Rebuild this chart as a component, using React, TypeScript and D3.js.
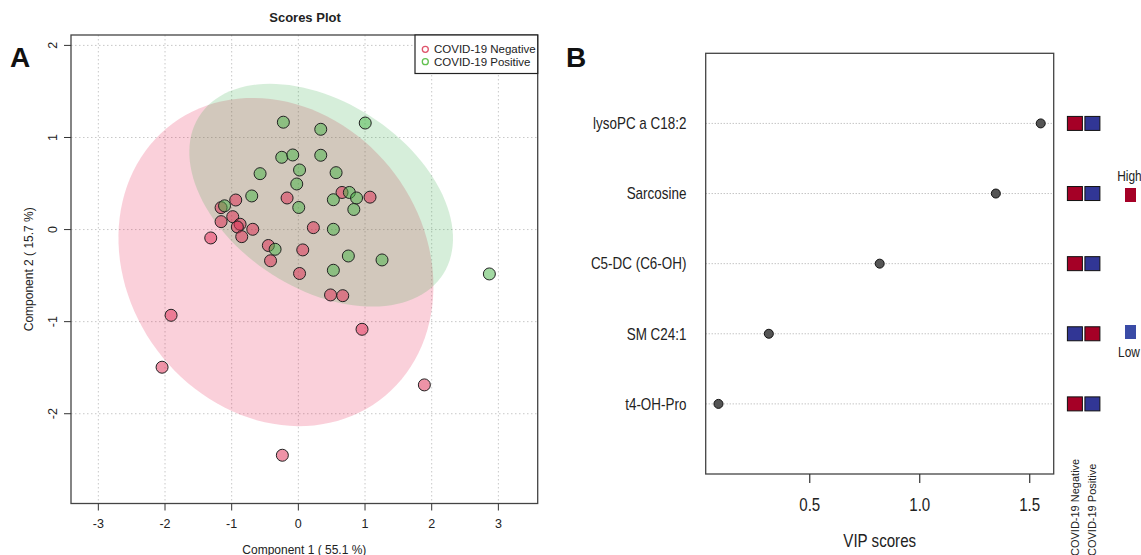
import React, { useEffect, useRef } from "react";
import * as d3 from "d3";

const width = 1141;
const height = 555;

// ---- scores plot (component 1 / component 2) ----
const groups = ["COVID-19 Negative", "COVID-19 Positive"];

const negX = [-0.939, -1.159, -0.984, -1.159, -0.874, -0.915, -0.684, -0.849, -1.314, -0.169, 0.655, 1.075,
  0.225, -0.45, 0.066, -0.417, 0.018, 0.483, 0.666, -1.909, -2.044, -0.24, 0.955, 1.89];
const negY = [0.321, 0.238, 0.14, 0.086, 0.058, 0.028, 0.003, -0.077, -0.091, 0.343, 0.403, 0.352,
  0.021, -0.173, -0.221, -0.339, -0.477, -0.71, -0.718, -0.931, -1.495, -2.451, -1.083, -1.687];

const posX = [-0.225, 0.336, 1.003, -0.249, -0.084, 0.336, 0.018, 0.566, -0.574, -0.024, -0.699, 0.006,
  0.525, 0.765, 0.873, 0.832, -1.107, 0.525, -0.349, 0.75, 1.255, 0.525, 2.865];
const posY = [1.166, 1.089, 1.157, 0.785, 0.81, 0.807, 0.647, 0.618, 0.607, 0.495, 0.365, 0.24,
  0.324, 0.403, 0.343, 0.218, 0.258, 0.003, -0.214, -0.287, -0.33, -0.442, -0.482];

const xTicks = [-3, -2, -1, 0, 1, 2, 3];
const yTicks = [-2, -1, 0, 1, 2];

// ---- VIP scores ----
const features = ["lysoPC a C18:2", "Sarcosine", "C5-DC (C6-OH)", "SM C24:1", "t4-OH-Pro"];
const vipScores = [1.55, 1.346, 0.818, 0.314, 0.085];
// 1 = high, 0 = low, columns: negative, positive
const negLevel = [1, 1, 1, 0, 1];
const posLevel = [0, 0, 0, 1, 0];
const vipTicks = [0.5, 1.0, 1.5];

const font = "'Liberation Sans', Arial, sans-serif";

function ellipse(xs: number[], ys: number[]) {
  const n = xs.length;
  const mx = d3.mean(xs) as number;
  const my = d3.mean(ys) as number;
  let sxx = 0, syy = 0, sxy = 0;
  for (let i = 0; i < n; i++) {
    const dx = xs[i] - mx, dy = ys[i] - my;
    sxx += dx * dx; syy += dy * dy; sxy += dx * dy;
  }
  sxx /= n - 1; syy /= n - 1; sxy /= n - 1;
  const tr = sxx + syy, det = sxx * syy - sxy * sxy;
  const l1 = tr / 2 + Math.sqrt(tr * tr / 4 - det);
  const l2 = tr / 2 - Math.sqrt(tr * tr / 4 - det);
  const th = Math.atan2(l1 - sxx, sxy);
  const t = Math.sqrt(5.991); // 95% chi-square, 2 df
  return d3.range(120).map(i => {
    const a = (2 * Math.PI * i) / 120;
    const u = t * Math.sqrt(l1) * Math.cos(a), v = t * Math.sqrt(l2) * Math.sin(a);
    return [mx + u * Math.cos(th) - v * Math.sin(th), my + u * Math.sin(th) + v * Math.cos(th)];
  });
}

export default function App() {
  const ref = useRef<SVGSVGElement>(null);

  useEffect(() => {
    const svg = d3.select(ref.current);
    svg.selectAll("*").remove();

    // ================= A: scores plot =================
    const L = { left: 71, right: 537.7, top: 35, bottom: 503.5 };
    const x = d3.scaleLinear().domain([-3.41, 3.59]).range([L.left, L.right]);
    const y = d3.scaleLinear().domain([-2.975, 2.113]).range([L.bottom, L.top]);

    const a = svg.append("g").style("font-family", font);

    a.append("clipPath").attr("id", "clipA").append("rect")
      .attr("x", L.left).attr("y", L.top).attr("width", L.right - L.left).attr("height", L.bottom - L.top);

    // grid
    a.selectAll(".gx").data(xTicks).join("line")
      .attr("x1", d => x(d)).attr("x2", d => x(d)).attr("y1", L.top).attr("y2", L.bottom)
      .attr("stroke", "#c8c8c8").attr("stroke-dasharray", "1.5,2.5");
    a.selectAll(".gy").data(yTicks).join("line")
      .attr("y1", d => y(d)).attr("y2", d => y(d)).attr("x1", L.left).attr("x2", L.right)
      .attr("stroke", "#c8c8c8").attr("stroke-dasharray", "1.5,2.5");

    // ellipses
    const line = d3.line<number[]>().x(d => x(d[0])).y(d => y(d[1])).curve(d3.curveLinearClosed);
    const ell = a.append("g").attr("clip-path", "url(#clipA)");
    ell.append("path").attr("d", line(ellipse(negX, negY))).attr("fill", "rgba(230,20,70,0.2)");
    ell.append("path").attr("d", line(ellipse(posX, posY))).attr("fill", "rgba(50,170,70,0.2)");

    // points
    a.append("g").selectAll("circle").data(negX.map((d, i) => [d, negY[i]])).join("circle")
      .attr("cx", d => x(d[0])).attr("cy", d => y(d[1])).attr("r", 6)
      .attr("fill", "rgba(222,40,80,0.5)").attr("stroke", "#222").attr("stroke-width", 1);
    a.append("g").selectAll("circle").data(posX.map((d, i) => [d, posY[i]])).join("circle")
      .attr("cx", d => x(d[0])).attr("cy", d => y(d[1])).attr("r", 6)
      .attr("fill", "rgba(70,180,70,0.5)").attr("stroke", "#222").attr("stroke-width", 1);

    // box
    a.append("rect").attr("x", L.left).attr("y", L.top).attr("width", L.right - L.left)
      .attr("height", L.bottom - L.top).attr("fill", "none").attr("stroke", "#444").attr("stroke-width", 1.3);

    // x axis
    a.selectAll(".tx").data(xTicks).join("line")
      .attr("x1", d => x(d)).attr("x2", d => x(d)).attr("y1", L.bottom).attr("y2", L.bottom + 7)
      .attr("stroke", "#333");
    a.selectAll(".lx").data(xTicks).join("text")
      .attr("x", d => x(d)).attr("y", 527.5).attr("text-anchor", "middle")
      .attr("font-size", 12.5).attr("fill", "#222").text(d => String(d));
    a.append("text").attr("x", (L.left + L.right) / 2).attr("y", 553.5).attr("text-anchor", "middle")
      .attr("font-size", 12).attr("fill", "#222").text("Component 1 ( 55.1 %)");

    // y axis
    a.selectAll(".ty").data(yTicks).join("line")
      .attr("y1", d => y(d)).attr("y2", d => y(d)).attr("x1", L.left).attr("x2", L.left - 7)
      .attr("stroke", "#333");
    a.selectAll(".ly").data(yTicks).join("text")
      .attr("transform", d => `translate(56.5,${y(d)}) rotate(-90)`).attr("text-anchor", "middle")
      .attr("font-size", 12.5).attr("fill", "#222").text(d => String(d));
    a.append("text").attr("transform", `translate(33,${(L.top + L.bottom) / 2}) rotate(-90)`)
      .attr("text-anchor", "middle").attr("font-size", 12).attr("fill", "#222").text("Component 2 ( 15.7 %)");

    // title
    a.append("text").attr("x", 305).attr("y", 21.5).attr("text-anchor", "middle")
      .attr("font-size", 13).attr("font-weight", "bold").attr("fill", "#222").text("Scores Plot");

    // legend
    const lg = a.append("g");
    lg.append("rect").attr("x", 415).attr("y", L.top).attr("width", L.right - 415).attr("height", 38.5)
      .attr("fill", "white").attr("stroke", "#222").attr("stroke-width", 1.2);
    const legCol = ["#DF536B", "#61C04F"];
    groups.forEach((g, i) => {
      lg.append("circle").attr("cx", 425.3).attr("cy", 49.3 + i * 12.4).attr("r", 3)
        .attr("fill", "none").attr("stroke", legCol[i]).attr("stroke-width", 1.3);
      lg.append("text").attr("x", 434).attr("y", 53.4 + i * 12.4).attr("font-size", 11.5)
        .attr("fill", "#222").text(g);
    });

    a.append("text").attr("x", 20).attr("y", 67).attr("text-anchor", "middle")
      .attr("font-size", 28).attr("font-weight", "bold").attr("fill", "#111").text("A");

    // ================= B: VIP scores =================
    const R = { left: 705.7, right: 1053.7, top: 53.3, bottom: 474 };
    const vx = d3.scaleLinear().domain([0.027, 1.609]).range([R.left, R.right]);
    const vy = d3.scaleLinear().domain([0, features.length + 1]).range([R.bottom, R.top]);
    const rowY = (i: number) => vy(features.length - i);
    const sx = 0.84;

    const b = svg.append("g").style("font-family", font);

    b.selectAll(".grid").data(features).join("line")
      .attr("x1", R.left).attr("x2", R.right).attr("y1", (d, i) => rowY(i)).attr("y2", (d, i) => rowY(i))
      .attr("stroke", "#aaa").attr("stroke-dasharray", "1,2");

    b.selectAll(".dot").data(vipScores).join("circle")
      .attr("cx", d => vx(d)).attr("cy", (d, i) => rowY(i)).attr("r", 4.5)
      .attr("fill", "#555").attr("stroke", "#111").attr("stroke-width", 1);

    b.append("rect").attr("x", R.left).attr("y", R.top).attr("width", R.right - R.left)
      .attr("height", R.bottom - R.top).attr("fill", "none").attr("stroke", "#444").attr("stroke-width", 1.3);

    b.selectAll(".lab").data(features).join("text")
      .attr("transform", (d, i) => `translate(686.4,${rowY(i)}) scale(${sx},1)`)
      .attr("dy", "0.36em").attr("text-anchor", "end").attr("font-size", 16).attr("fill", "#222")
      .text(d => d);

    b.selectAll(".tk").data(vipTicks).join("line")
      .attr("x1", d => vx(d)).attr("x2", d => vx(d)).attr("y1", R.bottom).attr("y2", R.bottom + 9)
      .attr("stroke", "#333").attr("stroke-width", 1.2);
    b.selectAll(".tl").data(vipTicks).join("text")
      .attr("transform", d => `translate(${vx(d)},510.5) scale(${sx},1)`)
      .attr("text-anchor", "middle").attr("font-size", 18).attr("fill", "#222")
      .text(d => d3.format(".1f")(d));
    b.append("text").attr("transform", `translate(${(R.left + R.right) / 2},546.5) scale(${sx},1)`)
      .attr("text-anchor", "middle").attr("font-size", 18).attr("fill", "#222").text("VIP scores");

    // heat squares
    const heat = (v: number) => (v === 1 ? "#A50026" : "#313695");
    const cols = [negLevel, posLevel];
    const colX = [1074.9, 1092.4];
    cols.forEach((lev, c) => {
      b.append("g").selectAll("rect").data(lev).join("rect")
        .attr("x", colX[c] - 7.5).attr("y", (d, i) => rowY(i) - 7).attr("width", 15).attr("height", 14)
        .attr("fill", d => heat(d)).attr("stroke", "#111").attr("stroke-width", 1);
      b.append("text").attr("transform", `translate(${colX[c] + 4},556) rotate(-90)`)
        .attr("font-size", 11).attr("fill", "#222").text(groups[c]);
    });

    // colour key
    b.append("text").attr("transform", "translate(1129.5,180.5) scale(0.85,1)").attr("text-anchor", "middle")
      .attr("font-size", 14).attr("fill", "#222").text("High");
    b.append("rect").attr("x", 1125).attr("y", 188).attr("width", 11).attr("height", 14).attr("fill", heat(1));
    b.append("rect").attr("x", 1125).attr("y", 325).attr("width", 11).attr("height", 14).attr("fill", "#3A4BA6");
    b.append("text").attr("transform", "translate(1129,357) scale(0.85,1)").attr("text-anchor", "middle")
      .attr("font-size", 14).attr("fill", "#222").text("Low");

    b.append("text").attr("x", 576).attr("y", 67).attr("text-anchor", "middle")
      .attr("font-size", 28).attr("font-weight", "bold").attr("fill", "#111").text("B");
  }, []);

  return (
    <svg ref={ref} width={width} height={height}
      style={{ position: "absolute", left: 0, top: 0, background: "white" }} />
  );
}
